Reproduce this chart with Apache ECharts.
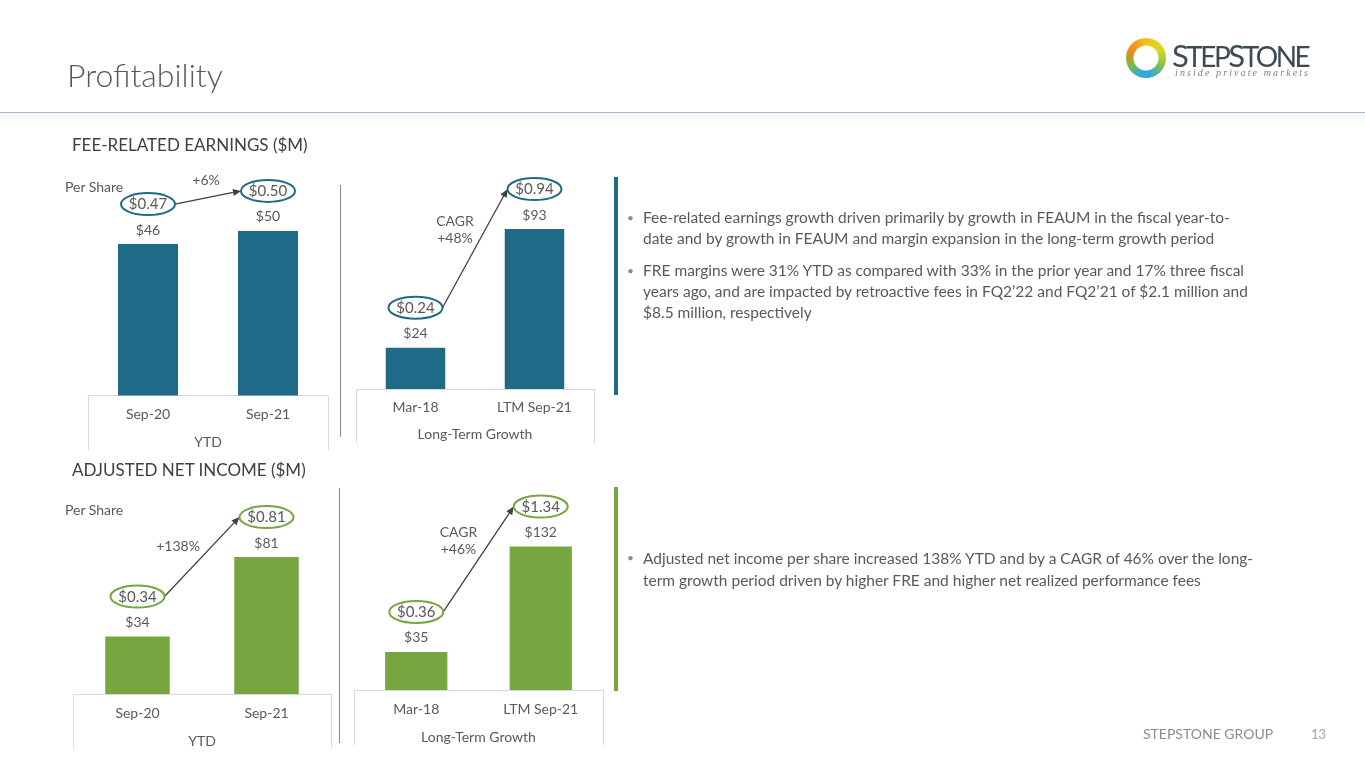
<!DOCTYPE html>
<html>
<head>
<meta charset="utf-8">
<title>Profitability</title>
<script src="https://cdn.jsdelivr.net/npm/echarts@6/dist/echarts.min.js"></script>
<style>
  html, body { margin: 0; padding: 0; background: #fff; }
  body { width: 1365px; height: 768px; position: relative; overflow: hidden; font-family: Lato, "Open Sans", sans-serif; color: #595959; }
  #main { position: absolute; left: 0; top: 0; width: 1365px; height: 768px; }
  .t { position: absolute; white-space: nowrap; pointer-events: none; }
  .rule { position: absolute; left: 0; top: 112px; width: 1365px; height: 1px; background: #a9bed5; }
  .band { position: absolute; left: 0; top: 113px; width: 1365px; height: 14px; background: linear-gradient(#f3f5f7, #fff); }
  .vline { position: absolute; width: 1px; background: #8c8c8c; }
  .accent { position: absolute; width: 4px; }
  .bullets { position: absolute; left: 627px; font-size: 15.5px; line-height: 21px; color: #595959; }
  .bullets p { margin: 0 0 11px 0; padding-left: 16px; position: relative; white-space: nowrap; }
  .bullets p:before { content: "\2022"; position: absolute; left: 0; color: #8c8c8c; font-size: 12px; }
  .ring { position: absolute; left: 1126px; top: 38px; width: 40px; height: 40px; border-radius: 50%;
    background: radial-gradient(circle, #fff 0 12px, rgba(255,255,255,0) 13px),
      conic-gradient(#f6c21c 0deg, #d8d42a 60deg, #8cc63f 110deg, #2aa7de 170deg, #35a9d8 200deg, #6cbf4a 240deg, #e98a1f 290deg, #f2a21a 330deg, #f6c21c 360deg); }
</style>
</head>
<body>
<div id="main"></div>

<div class="t" style="left:67px;top:55px;font-size:32px;line-height:40px;font-weight:300;color:#595959;">Profitability</div>
<div class="ring"></div>
<div class="t" style="left:1172px;top:38px;font-size:28px;line-height:34px;color:#3d4a56;letter-spacing:-2.5px;"><span style="font-size:31px">S</span>TEP<span style="font-size:31px">S</span>TONE</div>
<div class="t" style="left:1175px;top:66px;font-size:10px;line-height:14px;font-style:italic;font-family:'Liberation Serif',serif;letter-spacing:2.1px;color:#808080;">inside private markets</div>
<div class="rule"></div>
<div class="band"></div>

<div class="t" style="left:72px;top:133px;font-size:17px;line-height:24px;color:#404040;">FEE-RELATED EARNINGS ($M)</div>
<div class="t" style="left:65px;top:178px;font-size:14px;line-height:18px;">Per Share</div>
<div class="t" style="left:72px;top:458px;font-size:17px;line-height:24px;color:#404040;">ADJUSTED NET INCOME ($M)</div>
<div class="t" style="left:65px;top:501px;font-size:14px;line-height:18px;">Per Share</div>

<div class="vline" style="left:340px;top:185px;height:252px;"></div>
<div class="vline" style="left:339px;top:488px;height:255px;"></div>
<div class="accent" style="left:614px;top:177px;height:218px;background:#1f6a87;"></div>
<div class="accent" style="left:614px;top:487px;height:204px;background:#77a540;"></div>

<div class="bullets" style="top:206.5px;">
  <p>Fee-related earnings growth driven primarily by growth in FEAUM in the fiscal year-to-<br>date and by growth in FEAUM and margin expansion in the long-term growth period</p>
  <p>FRE margins were 31% YTD as compared with 33% in the prior year and 17% three fiscal<br>years ago, and are impacted by retroactive fees in FQ2’22 and FQ2’21 of $2.1 million and<br>$8.5 million, respectively</p>
</div>
<div class="bullets" style="top:546.5px;line-height:22px;">
  <p>Adjusted net income per share increased 138% YTD and by a CAGR of 46% over the long-<br>term growth period driven by higher FRE and higher net realized performance fees</p>
</div>

<div class="t" style="left:1143px;top:724px;font-size:14px;line-height:20px;color:#8c8c8c;">STEPSTONE GROUP</div>
<div class="t" style="left:1311px;top:725px;font-size:13px;line-height:18px;color:#a6a6a6;">13</div>

<script>
// Fee-related earnings ($M)
var freYtdCats = ['Sep-20', 'Sep-21'];
var freYtdValues = [46, 50];
var freYtdPerShare = ['$0.47', '$0.50'];
var freYtdChange = '+6%';

var freLtgCats = ['Mar-18', 'LTM Sep-21'];
var freLtgValues = [24, 93];
var freLtgPerShare = ['$0.24', '$0.94'];
var freLtgChange = 'CAGR\n+48%';

// Adjusted net income ($M)
var aniYtdCats = ['Sep-20', 'Sep-21'];
var aniYtdValues = [34, 81];
var aniYtdPerShare = ['$0.34', '$0.81'];
var aniYtdChange = '+138%';

var aniLtgCats = ['Mar-18', 'LTM Sep-21'];
var aniLtgValues = [35, 132];
var aniLtgPerShare = ['$0.36', '$1.34'];
var aniLtgChange = 'CAGR\n+46%';

var groupLabels = ['YTD', 'Long-Term Growth'];

var BLUE = '#1f6a87', GREEN = '#77a540', TXT = '#595959', BOX = '#d9d9d9';
var FONT = 'Lato, "Open Sans", sans-serif';

// layout of each small panel
var panels = [
  { cats: freYtdCats, values: freYtdValues, ps: freYtdPerShare, change: freYtdChange, group: groupLabels[0],
    color: BLUE, left: 88, width: 240, top: 198, height: 197.5, max: 60, catMargin: 12, groupMargin: 40, tick: 55, off: [-2, -17] },
  { cats: freLtgCats, values: freLtgValues, ps: freLtgPerShare, change: freLtgChange, group: groupLabels[1],
    color: BLUE, left: 356, width: 238, top: 182.6, height: 206.4, max: 120, catMargin: 11, groupMargin: 38, tick: 54, off: [-20, -18] },
  { cats: aniYtdCats, values: aniYtdValues, ps: aniYtdPerShare, change: aniYtdChange, group: groupLabels[0],
    color: GREEN, left: 73, width: 258, top: 525, height: 169, max: 100, catMargin: 12, groupMargin: 40, tick: 54, off: [-24, -10] },
  { cats: aniLtgCats, values: aniLtgValues, ps: aniLtgPerShare, change: aniLtgChange, group: groupLabels[1],
    color: GREEN, left: 354, width: 249, top: 527, height: 163, max: 150, catMargin: 12, groupMargin: 40, tick: 55, off: [-20, -18] }
];

var LIFT = 40;   // per-share ellipse sits this far above the bar top
var RX = 27, RY = 11;

var grid = [], xAxis = [], yAxis = [], series = [];

panels.forEach(function (p, i) {
  grid.push({ left: p.left, top: p.top, width: p.width, height: p.height });

  xAxis.push({
    type: 'category', gridIndex: i, data: p.cats, position: 'bottom',
    axisLine: { lineStyle: { color: BOX, width: 1 } },
    axisTick: { show: false },
    axisLabel: { margin: p.catMargin, color: TXT, fontSize: 14, fontFamily: FONT }
  });
  xAxis.push({
    type: 'category', gridIndex: i, data: [p.group], position: 'bottom',
    axisLine: { show: false },
    axisTick: { show: true, length: p.tick, lineStyle: { color: BOX } },
    axisLabel: { margin: p.groupMargin, color: TXT, fontSize: 14, fontFamily: FONT }
  });
  yAxis.push({ type: 'value', gridIndex: i, min: 0, max: p.max, show: false });

  series.push({
    type: 'bar', xAxisIndex: 2 * i, yAxisIndex: i, data: p.values,
    barCategoryGap: '50%', silent: true,
    itemStyle: { color: p.color },
    label: { show: true, position: 'top', distance: 7, color: TXT, fontSize: 14, fontFamily: FONT,
      formatter: function (d) { return '$' + d.value; } }
  });

  // per-share ellipses and the growth arrow between them
  series.push({
    type: 'custom', xAxisIndex: 2 * i, yAxisIndex: i, silent: true, clip: false, z: 4,
    data: [[0, p.values[0], 1, p.values[1]]],
    encode: { x: [0, 2], y: [1, 3] },
    renderItem: function (params, api) {
      var a = api.coord([api.value(0), api.value(1)]);
      var b = api.coord([api.value(2), api.value(3)]);
      var c0 = [a[0], a[1] - LIFT], c1 = [b[0], b[1] - LIFT];
      var s = [c0[0] + RX, c0[1]];
      var e = [c1[0] - RX, c1[1]];
      var dx = e[0] - s[0], dy = e[1] - s[1];
      var len = Math.sqrt(dx * dx + dy * dy);
      var ux = dx / len, uy = dy / len;
      var hl = 8, hw = 3.5;
      var bx = e[0] - ux * hl, by = e[1] - uy * hl;
      var mx = (s[0] + e[0]) / 2 + p.off[0], my = (s[1] + e[1]) / 2 + p.off[1];
      function oval(c, txt) {
        return [
          { type: 'ellipse', shape: { cx: c[0], cy: c[1], rx: RX, ry: RY },
            style: { fill: '#fff', stroke: p.color, lineWidth: 2 } },
          { type: 'text', x: c[0], y: c[1] + 0.5,
            style: { text: txt, fill: TXT, font: '15px ' + FONT, align: 'center', verticalAlign: 'middle' } }
        ];
      }
      return {
        type: 'group',
        children: [
          { type: 'line', shape: { x1: s[0], y1: s[1], x2: bx, y2: by },
            style: { stroke: '#404040', lineWidth: 1.3 } },
          { type: 'polygon', shape: { points: [[e[0], e[1]], [bx - uy * hw, by + ux * hw], [bx + uy * hw, by - ux * hw]] },
            style: { fill: '#404040' } },
          { type: 'text', x: mx, y: my,
            style: { text: p.change, fill: TXT, font: '14px ' + FONT, align: 'center', verticalAlign: 'middle', lineHeight: 17 } }
        ].concat(oval(c0, p.ps[0]), oval(c1, p.ps[1]))
      };
    }
  });
});

var chart = echarts.init(document.getElementById('main'));
chart.setOption({
  animation: false,
  grid: grid,
  xAxis: xAxis,
  yAxis: yAxis,
  series: series
});
</script>
</body>
</html>
